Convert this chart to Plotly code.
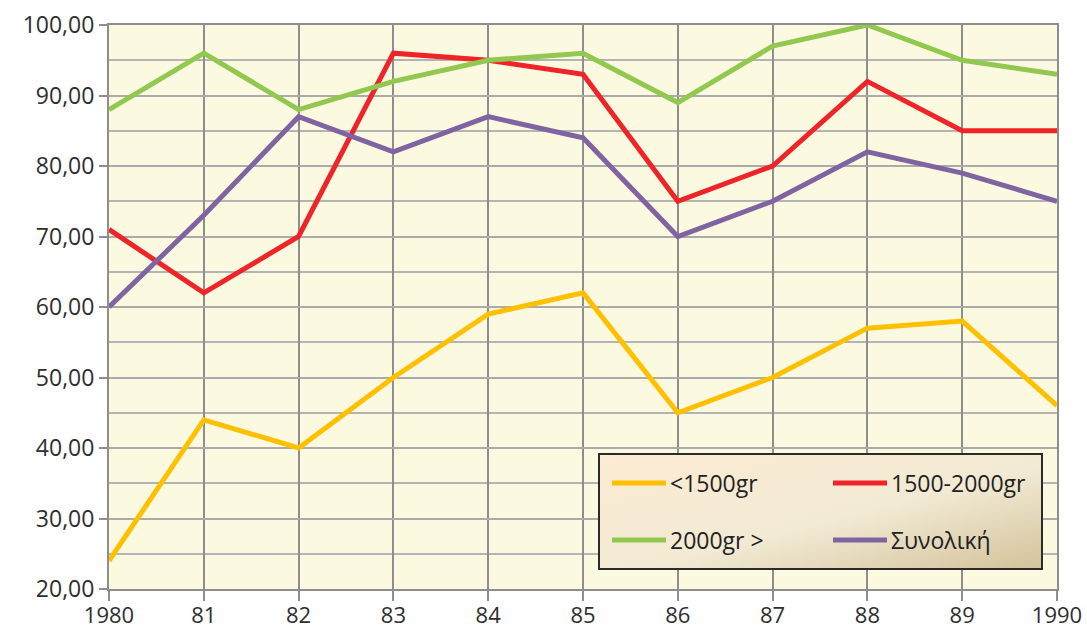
import base64
import plotly.graph_objects as go

# Years and series values
years = [1980, 1981, 1982, 1983, 1984, 1985, 1986, 1987, 1988, 1989, 1990]
year_labels = ["1980", "81", "82", "83", "84", "85", "86", "87", "88", "89", "1990"]
under_1500 = [24, 44, 40, 50, 59, 62, 45, 50, 57, 58, 46]
from_1500_to_2000 = [71, 62, 70, 96, 95, 93, 75, 80, 92, 85, 85]
over_2000 = [88, 96, 88, 92, 95, 96, 89, 97, 100, 95, 93]
total = [60, 73, 87, 82, 87, 84, 70, 75, 82, 79, 75]
y_ticks = [20, 30, 40, 50, 60, 70, 80, 90, 100]
y_tick_labels = ["20,00", "30,00", "40,00", "50,00", "60,00", "70,00", "80,00", "90,00", "100,00"]

series = [
    ("<1500gr", under_1500, "#FFC000"),
    ("1500-2000gr", from_1500_to_2000, "#EE2428"),
    ("2000gr >", over_2000, "#92C850"),
    ("Συνολική", total, "#8064A2"),
]

W, H = 1087, 634
ML, MR, MT, MB = 109, 30, 25, 45
PW, PH = W - ML - MR, H - MT - MB
FONT = "Open Sans"


def px(x):
    return (x - ML) / PW


def py(y):
    return (H - MB - y) / PH


fig = go.Figure()
for name, vals, color in series:
    fig.add_trace(go.Scatter(
        x=years, y=vals, mode="lines", name=name, showlegend=False,
        line=dict(color=color, width=5, shape="linear"),
        hoverinfo="x+y+name",
    ))

# Legend panel with a diagonal cream-to-tan gradient
svg = (
    '<svg xmlns="http://www.w3.org/2000/svg" width="443" height="115">'
    '<defs><linearGradient id="g" x1="0" y1="0" x2="1" y2="1">'
    '<stop offset="0" stop-color="#FDEBD3"/>'
    '<stop offset="0.55" stop-color="#F2EAD4"/>'
    '<stop offset="1" stop-color="#D4C39B"/>'
    '</linearGradient></defs>'
    '<rect width="443" height="115" fill="url(#g)"/></svg>'
)
src = "data:image/svg+xml;base64," + base64.b64encode(svg.encode()).decode()
box_l, box_r, box_t, box_b = 599, 1042, 454, 569
fig.add_layout_image(dict(
    source=src, xref="paper", yref="paper",
    x=px(box_l), y=py(box_t), sizex=px(box_r) - px(box_l), sizey=py(box_t) - py(box_b),
    xanchor="left", yanchor="top", sizing="stretch", layer="above",
))
shapes = [dict(
    type="rect", xref="paper", yref="paper",
    x0=px(box_l), x1=px(box_r), y0=py(box_b), y1=py(box_t),
    line=dict(color="#2B2B2B", width=2), fillcolor="rgba(0,0,0,0)", layer="above",
)]
annotations = []
slots = [(612, 483), (833, 483), (612, 540), (833, 540)]
for (name, _, color), (lx, ly) in zip(series, slots):
    shapes.append(dict(
        type="line", xref="paper", yref="paper",
        x0=px(lx), x1=px(lx + 54), y0=py(ly), y1=py(ly),
        line=dict(color=color, width=5), layer="above",
    ))
    annotations.append(dict(
        xref="paper", yref="paper", x=px(lx + 56), y=py(ly),
        xanchor="left", yanchor="middle", text=name, showarrow=False,
        font=dict(family=FONT, size=23, color="#222222"),
    ))

fig.update_layout(
    width=W, height=H,
    margin=dict(l=ML, r=MR, t=MT, b=MB, pad=0, autoexpand=False),
    paper_bgcolor="white",
    plot_bgcolor="#FCF9E1",
    font=dict(family=FONT, size=23, color="#2E2E2E"),
    shapes=shapes,
    annotations=annotations,
    xaxis=dict(
        range=[1980, 1990], tickvals=years, ticktext=year_labels,
        tickfont=dict(size=22), ticklabelstandoff=-4,
        showgrid=True, gridcolor="#8E8E8E", gridwidth=2,
        showline=True, linecolor="#8E8E8E", linewidth=2, mirror=True,
        ticks="outside", ticklen=10, tickcolor="#8E8E8E", tickwidth=2,
        zeroline=False, fixedrange=True, automargin=False,
    ),
    yaxis=dict(
        range=[20, 100], tickvals=y_ticks, ticktext=y_tick_labels,
        showgrid=True, gridcolor="#ABABAB", gridwidth=2,
        minor=dict(dtick=5, showgrid=True, gridcolor="#B4B4B4", gridwidth=2),
        showline=True, linecolor="#8E8E8E", linewidth=2, mirror=True,
        ticks="outside", ticklen=8, tickcolor="#8E8E8E", tickwidth=2,
        zeroline=False, fixedrange=True, automargin=False,
    ),
)

fig.write_html("out.html")
